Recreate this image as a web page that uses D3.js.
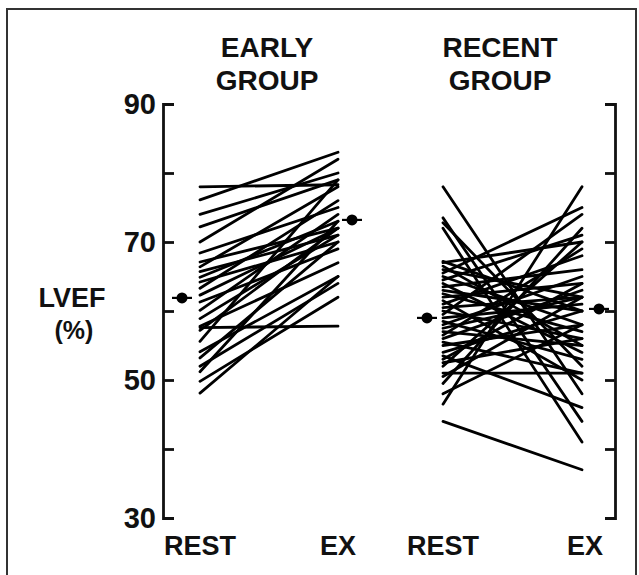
<!DOCTYPE html>
<html>
<head>
<meta charset="utf-8">
<script src="https://cdn.jsdelivr.net/npm/d3@7"></script>
<style>
  html, body { margin: 0; padding: 0; background: #fff; }
  svg { display: block; }
  text { font-family: "Liberation Sans", Arial, sans-serif; font-weight: bold; fill: #111; }
</style>
</head>
<body>
<svg id="chart" width="639" height="575"></svg>
<script>
// ---- data ----
const phases = ["REST", "EX"];
const groupTitles = [["EARLY", "GROUP"], ["RECENT", "GROUP"]];
const yTicks = [30, 40, 50, 60, 70, 80, 90];
const yTickLabels = [30, 50, 70, 90];

const earlyRest = [78, 76.1, 74, 72.2, 70, 68.4, 67.1, 66.4, 65.7, 64.9, 64.2, 63.3, 62.3, 61.3, 60.1, 58.9, 57.8, 57.6, 57.2, 55.6, 54.1, 53.2, 52, 51.2, 49.8, 48.1];
const earlyEx   = [78.3, 83, 80, 79, 82, 75, 72, 78, 71, 73, 70, 76, 72, 69, 74, 71, 67, 57.8, 72, 79, 65, 70, 64, 73, 62, 65];
const earlyMean = [61.9, 73.2];

const recentRest = [78, 73.5, 72.8, 72, 67.2, 67, 66.5, 66, 65.5, 65, 64.5, 64, 63.5, 63, 62.5, 62, 61.5, 61, 60.5, 60, 59.5, 59, 58.5, 58, 57.5, 57, 56.5, 56, 55.5, 55, 54, 53.5, 53, 52.5, 52, 51, 50.5, 49.5, 48, 46.5, 44];
const recentEx   = [48, 44, 52, 41, 60, 70, 55, 62, 75, 58, 71, 54, 66, 60, 57, 64, 50, 68, 62, 56, 74, 61, 53, 65, 62, 55, 69, 63, 51, 58, 60, 46, 64, 56, 70, 51, 62, 72, 58, 78, 37];
const recentMean = [59.0, 60.3];

// ---- layout ----
const svg = d3.select("#chart");
const y = d3.scaleLinear().domain([30, 90]).range([518, 104]);
const xEarly = d3.scalePoint().domain(phases).range([200, 338]);
const xRecent = d3.scalePoint().domain(phases).range([443, 582]);
const leftAxisX = 163, rightAxisX = 615;

// frame
svg.append("path")
  .attr("d", "M7,575V9H636V575")
  .attr("fill", "none").attr("stroke", "#333").attr("stroke-width", 2);

// axes
const axL = d3.axisRight(y).tickValues(yTicks).tickSize(11).tickSizeOuter(11).tickFormat("");
const gL = svg.append("g").attr("transform", `translate(${leftAxisX},0)`).call(axL);
const axR = d3.axisLeft(y).tickValues(yTicks).tickSize(10).tickSizeOuter(10).tickFormat("");
const gR = svg.append("g").attr("transform", `translate(${rightAxisX},0)`).call(axR);
[gL, gR].forEach(g => {
  g.selectAll("path, line").attr("stroke", "#111").attr("stroke-width", 2.8);
});

svg.selectAll("text.ytl").data(yTickLabels).join("text")
  .attr("class", "ytl")
  .attr("x", leftAxisX - 7)
  .attr("y", d => y(d))
  .attr("dy", "0.36em")
  .attr("text-anchor", "end")
  .attr("font-size", 29)
  .text(d => d);

// y title
svg.append("text").attr("x", 72).attr("y", 307).attr("text-anchor", "middle").attr("font-size", 27).text("LVEF");
svg.append("text").attr("x", 74).attr("y", 339).attr("text-anchor", "middle").attr("font-size", 25).text("(%)");

// group lines
function drawGroup(xs, rest, ex, mean, meanX) {
  const pairs = rest.map((r, i) => [r, ex[i]]);
  svg.append("g").selectAll("line").data(pairs).join("line")
    .attr("x1", xs("REST")).attr("x2", xs("EX"))
    .attr("y1", d => y(d[0])).attr("y2", d => y(d[1]))
    .attr("stroke", "#000").attr("stroke-width", 2.8).attr("stroke-linecap", "round");
  const g = svg.append("g");
  mean.forEach((m, i) => {
    g.append("line").attr("x1", meanX[i] - 10).attr("x2", meanX[i] + 10)
      .attr("y1", y(m)).attr("y2", y(m)).attr("stroke", "#000").attr("stroke-width", 2.2);
    g.append("circle").attr("cx", meanX[i]).attr("cy", y(m)).attr("r", 5.5).attr("fill", "#000");
  });
}
drawGroup(xEarly, earlyRest, earlyEx, earlyMean, [182, 352]);
drawGroup(xRecent, recentRest, recentEx, recentMean, [427, 599]);

// titles
const titleX = [267, 500];
groupTitles.forEach((t, i) => {
  t.forEach((line, j) => {
    svg.append("text").attr("x", titleX[i]).attr("y", 57 + j * 33)
      .attr("text-anchor", "middle").attr("font-size", 28).text(line);
  });
});

// phase labels
const phaseLabels = [
  {t: "REST", x: xEarly("REST")}, {t: "EX", x: xEarly("EX")},
  {t: "REST", x: xRecent("REST")}, {t: "EX", x: xRecent("EX") + 3}
];
svg.selectAll("text.ph").data(phaseLabels).join("text")
  .attr("class", "ph")
  .attr("x", d => d.x).attr("y", 555)
  .attr("text-anchor", "middle").attr("font-size", 27)
  .text(d => d.t);
</script>
</body>
</html>
